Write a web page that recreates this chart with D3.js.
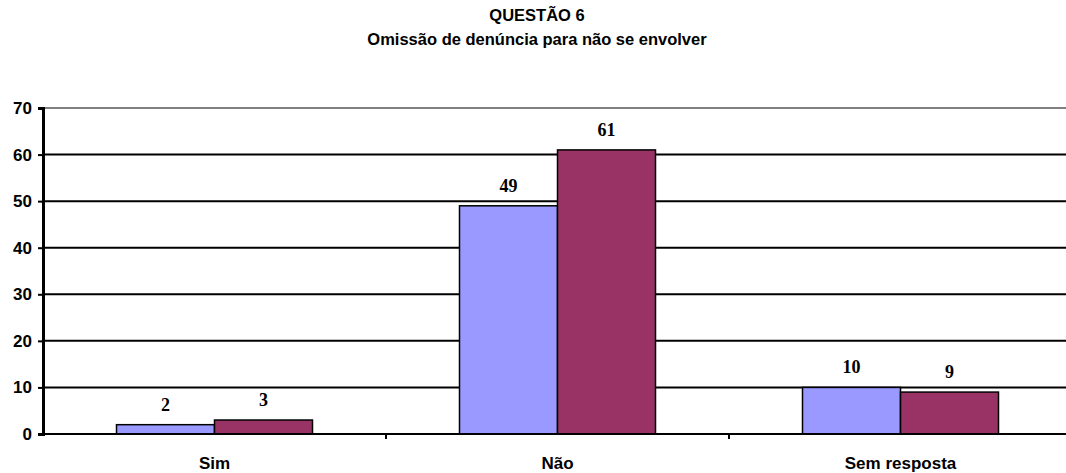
<!DOCTYPE html>
<html><head><meta charset="utf-8">
<script src="https://cdn.jsdelivr.net/npm/d3@7"></script>
<style>body{margin:0;background:#fff;}svg{display:block;}</style>
</head><body>
<svg id="c" width="1066" height="473"></svg>
<script>
const categories = ["Sim", "Não", "Sem resposta"];
const series1 = [2, 49, 10];
const series2 = [3, 61, 9];
const yTicks = [0, 10, 20, 30, 40, 50, 60, 70];
const title = "QUESTÃO 6";
const subtitle = "Omissão de denúncia para não se envolver";
const colors = ["#9999FF", "#993366"];

(function () {
const svg = d3.select("#c");
const mLeft = 43, mRight = 1072, mTop = 108, mBottom = 434;
const sans = "Liberation Sans, Arial, sans-serif";
const x = d3.scaleBand().domain(categories).range([mLeft, mRight]).paddingInner(0).paddingOuter(0);
const y = d3.scaleLinear().domain([0, 70]).range([mBottom, mTop]);
const barW = x.bandwidth() / 3.5;

// title
svg.append("text").attr("x", 537).attr("y", 21).attr("text-anchor", "middle")
  .attr("font-family", sans).attr("font-weight", "bold").attr("font-size", 16.5).text(title);
svg.append("text").attr("x", 537).attr("y", 45).attr("text-anchor", "middle")
  .attr("font-family", sans).attr("font-weight", "bold").attr("font-size", 16.5).text(subtitle);

// gridlines
svg.append("g").selectAll("line").data(yTicks.filter(d => d > 0)).join("line")
  .attr("x1", mLeft).attr("x2", mRight).attr("y1", d => y(d)).attr("y2", d => y(d))
  .attr("stroke", d => d === 70 ? "#808080" : "#000").attr("stroke-width", 2);

// bars
const series = [series1, series2];
series.forEach((s, si) => {
  svg.append("g").selectAll("rect").data(s).join("rect")
    .attr("x", (d, i) => x(categories[i]) + x.bandwidth() / 2 - barW + si * barW)
    .attr("y", d => y(d)).attr("width", barW).attr("height", d => y(0) - y(d))
    .attr("fill", colors[si]).attr("stroke", "#000").attr("stroke-width", 1.5);
  svg.append("g").selectAll("text").data(s).join("text")
    .attr("x", (d, i) => x(categories[i]) + x.bandwidth() / 2 - barW / 2 + si * barW)
    .attr("y", d => y(d) - 14)
    .attr("text-anchor", "middle").attr("font-family", "Liberation Serif, Times New Roman, serif")
    .attr("font-weight", "bold").attr("font-size", 18).text(d => d);
});

// y axis
const yAxis = d3.axisLeft(y).tickValues(yTicks).tickSize(5).tickPadding(6);
const gy = svg.append("g").attr("transform", `translate(${mLeft},0)`).call(yAxis);
gy.select(".domain").attr("stroke", "#000").attr("stroke-width", 3);
gy.selectAll(".tick line").attr("stroke", "#000").attr("stroke-width", 2);
gy.selectAll(".tick text").attr("font-family", sans)
  .attr("font-weight", "bold").attr("font-size", 17).attr("fill", "#000");

// x axis
const xAxis = d3.axisBottom(x).tickSize(0).tickPadding(23);
const gx = svg.append("g").attr("transform", `translate(0,${mBottom})`).call(xAxis);
gx.select(".domain").remove();
gx.append("line").attr("x1", mLeft).attr("x2", mRight).attr("stroke", "#000").attr("stroke-width", 2);
gx.selectAll(".tick text").attr("font-family", sans)
  .attr("font-weight", "bold").attr("font-size", 17).attr("fill", "#000");
gx.selectAll(".sep").data(categories.slice(1)).join("line").attr("class", "sep")
  .attr("x1", d => x(d)).attr("x2", d => x(d)).attr("y1", 0).attr("y2", 5)
  .attr("stroke", "#000").attr("stroke-width", 2);
})();
</script>
</body></html>
